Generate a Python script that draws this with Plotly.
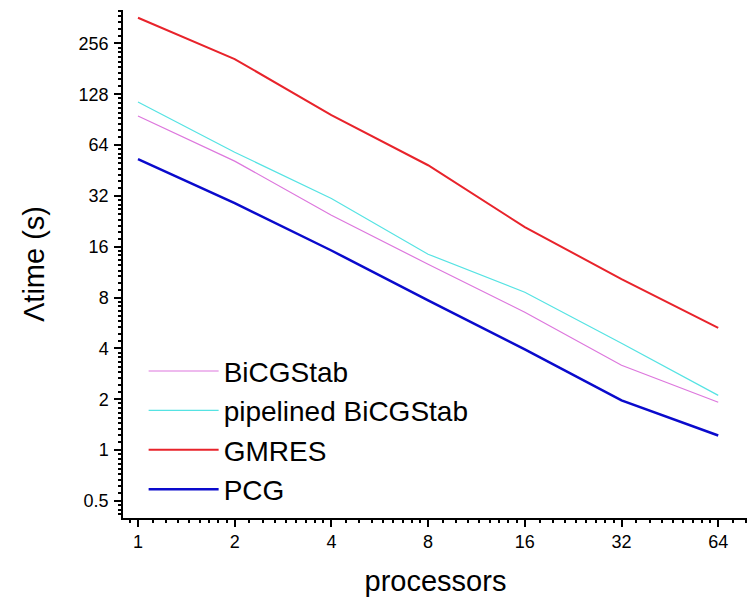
import numpy as np
import plotly.graph_objects as go

processors = [1, 2, 4, 8, 16, 32, 64]
bicgstab = [95, 51.4, 24.6, 12.6, 6.55, 3.18, 1.92]
pipelined_bicgstab = [115, 58, 30.9, 14.45, 8.6, 4.29, 2.11]
gmres = [363, 206.7, 96.3, 48.6, 20.9, 10.3, 5.3]
pcg = [52.8, 29, 15.2, 7.7, 3.95, 1.97, 1.22]

x_tick_labels = ["1", "2", "4", "8", "16", "32", "64"]
y_tick_vals = [0.5, 1, 2, 4, 8, 16, 32, 64, 128, 256]
y_tick_labels = ["0.5", "1", "2", "4", "8", "16", "32", "64", "128", "256"]

series = [
    ("BiCGStab", bicgstab, "#DD77DD", 1.2),
    ("pipelined BiCGStab", pipelined_bicgstab, "#55E3E3", 1.2),
    ("GMRES", gmres, "#E8232B", 2),
    ("PCG", pcg, "#0A0ACC", 2.5),
]


def minor_vals(lo_exp, hi_exp):
    vals = []
    for e in range(lo_exp, hi_exp):
        base = 2.0 ** e
        for k in range(1, 9):
            vals.append(base * (1 + k / 9))
    return vals


x_range = [np.log10(2) * -0.155, np.log10(2) * 6.308]
y_range = [np.log10(2) * -1.335, np.log10(2) * 8.656]
x_minor = minor_vals(-1, 7)
y_minor = minor_vals(-2, 9)

fig = go.Figure()
for i, (name, vals, color, width) in enumerate(series):
    on_overlay = (name == "PCG")
    fig.add_trace(go.Scatter(
        x=processors, y=vals, mode="lines", name=name,
        line=dict(color=color, width=width),
        legendgroup=f"g{i}",
        xaxis="x2" if on_overlay else "x",
        yaxis="y2" if on_overlay else "y",
    ))

font_family = "Arial, Liberation Sans, sans-serif"

# page body has an 8px default margin, so the figure is drawn 8px in/down
fig.update_layout(
    width=747, height=590,
    margin=dict(l=115, r=7, t=2, b=80),
    paper_bgcolor="white", plot_bgcolor="white",
    font=dict(family=font_family, color="black"),
    showlegend=True,
    legend=dict(
        x=0.033, y=0.338, xanchor="left", yanchor="top",
        font=dict(size=28, family=font_family),
        bgcolor="rgba(0,0,0,0)", tracegroupgap=0,
        itemwidth=70,
    ),
    xaxis=dict(
        type="log", range=x_range, automargin=False,
        tickmode="array", tickvals=processors, ticktext=x_tick_labels,
        ticks="outside", ticklen=7, tickwidth=2, tickcolor="black",
        showline=True, linecolor="black", linewidth=1.5,
        showgrid=False, zeroline=False,
        tickfont=dict(size=18),
        title=dict(text="processors", font=dict(size=29), standoff=19),
    ),
    yaxis=dict(
        type="log", range=y_range, automargin=False,
        tickmode="array", tickvals=y_tick_vals, ticktext=y_tick_labels,
        ticks="outside", ticklen=7, tickwidth=2, tickcolor="black",
        showline=True, linecolor="black", linewidth=1.5,
        showgrid=False, zeroline=False,
        tickfont=dict(size=18), ticklabelstandoff=2,
        title=dict(text="Λtime (s)", font=dict(size=29), standoff=25),
    ),
    xaxis2=dict(
        type="log", range=x_range, overlaying="x", anchor="y",
        side="bottom", automargin=False,
        tickmode="array", tickvals=x_minor, ticktext=[""] * len(x_minor),
        ticks="outside", ticklen=4, tickwidth=1.5, tickcolor="black",
        showticklabels=True, showline=False, showgrid=False, zeroline=False,
    ),
    yaxis2=dict(
        type="log", range=y_range, overlaying="y", anchor="x",
        side="left", automargin=False,
        tickmode="array", tickvals=y_minor, ticktext=[""] * len(y_minor),
        ticks="outside", ticklen=4, tickwidth=1.5, tickcolor="black",
        showticklabels=True, showline=False, showgrid=False, zeroline=False,
    ),
)

fig.write_html("out.html")
